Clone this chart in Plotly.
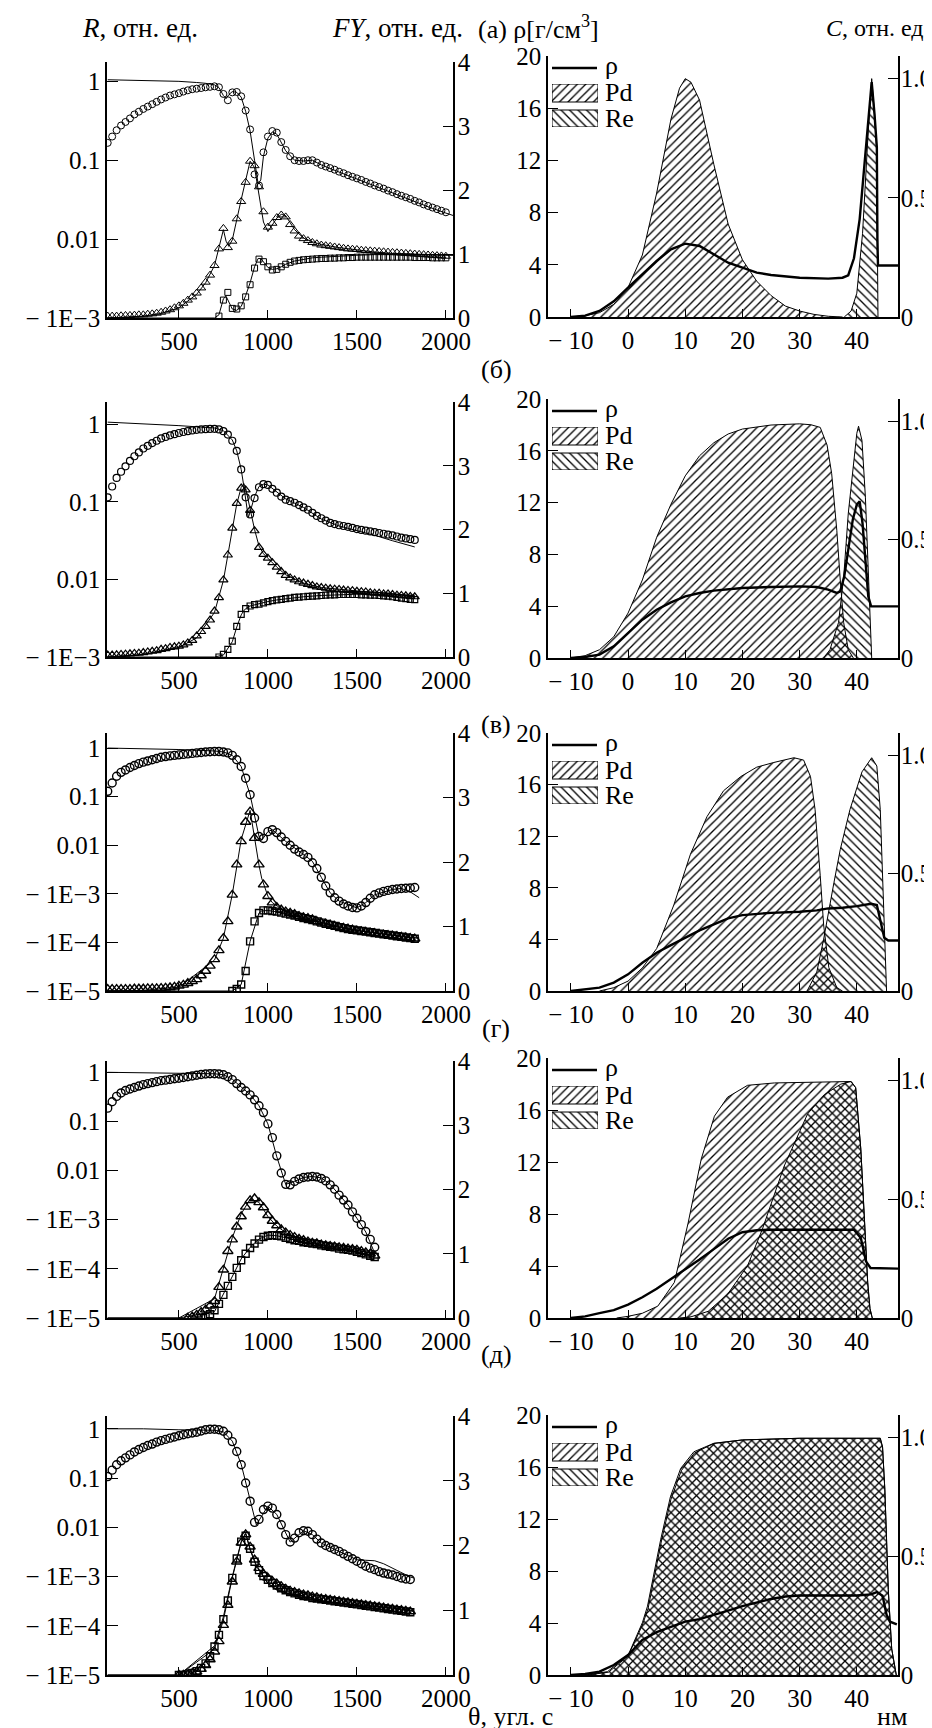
import plotly.graph_objects as go

# ---------------- left panels: reflectivity R (log) and fluorescence yield FY ----------------
# (а)
th_a = list(range(100, 2001, 25))
lgR_a = [-0.78, -0.70, -0.62, -0.56,
         -0.515, -0.47, -0.42, -0.385,
         -0.35, -0.32, -0.29, -0.26,
         -0.23, -0.205, -0.18, -0.165,
         -0.15, -0.13, -0.114, -0.10,
         -0.093, -0.085, -0.076, -0.07,
         -0.063, -0.075, -0.16, -0.24,
         -0.14, -0.135, -0.19, -0.37,
         -0.61, -1.18, -1.32, -0.90,
         -0.70, -0.63, -0.65, -0.77,
         -0.87, -0.95, -1.00, -1.01,
         -1.01, -1.00, -1.00, -1.03,
         -1.06, -1.08, -1.10, -1.12,
         -1.145, -1.165, -1.19, -1.21,
         -1.23, -1.25, -1.275, -1.295,
         -1.32, -1.34, -1.36, -1.385,
         -1.405, -1.43, -1.45, -1.47,
         -1.49, -1.515, -1.535, -1.56,
         -1.58, -1.60, -1.62, -1.64,
         -1.66]
th1_a = th_a
FY1_a = [0.03, 0.03, 0.03, 0.035,
         0.04, 0.04, 0.045, 0.05,
         0.05, 0.06, 0.065, 0.075,
         0.09, 0.11, 0.13, 0.16,
         0.19, 0.23, 0.28, 0.33,
         0.39, 0.47, 0.56, 0.67,
         0.82, 1.08, 1.40, 1.10,
         1.20, 1.55, 1.82, 2.12,
         2.45, 2.38, 2.05, 1.66,
         1.42, 1.48, 1.57, 1.61,
         1.58, 1.46, 1.36, 1.28,
         1.24, 1.21, 1.18, 1.16,
         1.14, 1.13, 1.12, 1.11,
         1.10, 1.09, 1.08, 1.075,
         1.07, 1.06, 1.055, 1.05,
         1.045, 1.04, 1.035, 1.03,
         1.025, 1.02, 1.015, 1.01,
         1.005, 1.0, 0.995, 0.99,
         0.985, 0.98, 0.975, 0.97,
         0.965]
th2_a = list(range(725, 2001, 25))
FY2_a = [0.03, 0.28, 0.40,
         0.15, 0.14, 0.19, 0.33,
         0.52, 0.78, 0.92, 0.88,
         0.80, 0.75, 0.76, 0.80,
         0.84, 0.87, 0.89, 0.90,
         0.91, 0.915, 0.92, 0.925,
         0.93, 0.93, 0.935, 0.935,
         0.94, 0.94, 0.945, 0.945,
         0.95, 0.95, 0.95, 0.95,
         0.95, 0.95, 0.95, 0.95,
         0.95, 0.95, 0.95, 0.95,
         0.95, 0.945, 0.945, 0.945,
         0.945, 0.94, 0.94, 0.94,
         0.94]
thf_a = [100, 200, 300, 400, 500, 600, 650, 700, 725, 750, 765, 780, 800, 825, 850, 875, 900, 925, 945,
         960, 975, 1000, 1025, 1050, 1075, 1100, 1150, 1200, 1250, 1300, 1400, 1500, 1600, 1700, 1800,
         1900, 2000, 2040]
lgRf_a = [0.02, 0.017, 0.013, 0.008, 0.0, -0.015, -0.025, -0.045, -0.08, -0.18, -0.22, -0.17, -0.13,
          -0.14, -0.20, -0.38, -0.63, -1.0, -1.3, -1.25, -0.95, -0.72, -0.64, -0.67, -0.78, -0.88, -1.0,
          -1.01, -1.0, -1.06, -1.15, -1.24, -1.33, -1.41, -1.50, -1.59, -1.67, -1.70]
FY1f_a = [0.0, 0.01, 0.03, 0.07, 0.16, 0.37, 0.55, 0.82, 1.1, 1.38, 1.2, 1.12, 1.22, 1.55, 1.85, 2.15,
          2.45, 2.35, 2.0, 1.72, 1.5, 1.35, 1.45, 1.56, 1.62, 1.6, 1.38, 1.25, 1.19, 1.15, 1.1, 1.06,
          1.03, 1.01, 1.0, 0.99, 0.98, 0.98]
FY2f_a = [0, 0, 0, 0, 0, 0, 0, 0, 0.05, 0.3, 0.34, 0.25, 0.14, 0.12, 0.18, 0.35, 0.55, 0.8, 0.93, 0.93,
          0.88, 0.79, 0.76, 0.77, 0.8, 0.84, 0.89, 0.92, 0.94, 0.95, 0.97, 0.98, 0.99, 0.99, 0.99, 0.99,
          0.985, 0.985]

# (б)
th_b = list(range(100, 1826, 25))
lgR_b = [-0.94, -0.80, -0.69, -0.61,
         -0.54, -0.47, -0.41, -0.36,
         -0.31, -0.275, -0.24, -0.21,
         -0.18, -0.16, -0.14, -0.125,
         -0.11, -0.097, -0.086, -0.077,
         -0.069, -0.064, -0.06, -0.057,
         -0.056, -0.064, -0.086, -0.13,
         -0.21, -0.34, -0.58, -0.94,
         -1.16, -0.95, -0.81, -0.77,
         -0.78, -0.83, -0.88, -0.93,
         -0.97, -0.99, -1.01, -1.04,
         -1.07, -1.10, -1.14, -1.18,
         -1.21, -1.24, -1.27, -1.285,
         -1.30, -1.31, -1.32, -1.335,
         -1.35, -1.36, -1.37, -1.38,
         -1.39, -1.40, -1.41, -1.42,
         -1.43, -1.445, -1.46, -1.47,
         -1.48, -1.49]
th1_b = th_b
FY1_b = [0.03, 0.03, 0.035, 0.04,
         0.045, 0.05, 0.055, 0.06,
         0.07, 0.08, 0.09, 0.10,
         0.12, 0.13, 0.15, 0.16,
         0.17, 0.19, 0.22, 0.26,
         0.33, 0.40, 0.48, 0.58,
         0.72, 0.93, 1.21, 1.60,
         2.02, 2.41, 2.65, 2.62,
         2.30, 1.98, 1.72, 1.61,
         1.55, 1.48, 1.41, 1.34,
         1.28, 1.24, 1.21, 1.18,
         1.16, 1.14, 1.12, 1.10,
         1.09, 1.08, 1.07, 1.065,
         1.06, 1.05, 1.045, 1.04,
         1.03, 1.025, 1.02, 1.01,
         1.0, 1.0, 0.99, 0.99,
         0.98, 0.97, 0.965, 0.96,
         0.95, 0.945]
th2_b = list(range(725, 1826, 25))
FY2_b = [0.0, 0.04, 0.12,
         0.25, 0.48, 0.67, 0.76,
         0.80, 0.82, 0.83, 0.85,
         0.87, 0.885, 0.895, 0.905,
         0.915, 0.925, 0.935, 0.94,
         0.945, 0.95, 0.955, 0.96,
         0.965, 0.97, 0.975, 0.975,
         0.98, 0.98, 0.98, 0.98,
         0.98, 0.975, 0.975, 0.97,
         0.97, 0.965, 0.96, 0.955,
         0.945, 0.935, 0.925, 0.915,
         0.905, 0.90]
thf_b = [100, 300, 500, 600, 700, 750, 800, 825, 850, 865, 875, 890, 900, 925, 950, 975, 1000, 1050,
         1100, 1200, 1300, 1400, 1500, 1600, 1700, 1825]
lgRf_b = [0.03, 0.01, -0.015, -0.03, -0.045, -0.08, -0.2, -0.34, -0.58, -0.8, -0.97, -1.2, -1.13, -0.93,
          -0.8, -0.77, -0.78, -0.87, -0.96, -1.07, -1.22, -1.31, -1.37, -1.43, -1.5, -1.58]
FY1f_b = [0.0, 0.04, 0.15, 0.3, 0.7, 1.2, 2.0, 2.4, 2.66, 2.72, 2.65, 2.45, 2.32, 2.0, 1.74, 1.62, 1.55,
          1.41, 1.29, 1.16, 1.09, 1.06, 1.03, 1.01, 0.99, 0.96]
FY2f_b = [0, 0, 0, 0, 0, 0.03, 0.24, 0.47, 0.66, 0.73, 0.76, 0.79, 0.8, 0.82, 0.835, 0.85, 0.87, 0.895,
          0.915, 0.945, 0.965, 0.98, 0.985, 0.98, 0.975, 0.97]

# (в)
th_c = list(range(100, 1826, 25))
lgR_c = [-0.89, -0.72, -0.58, -0.50,
         -0.45, -0.40, -0.36, -0.32,
         -0.29, -0.265, -0.24, -0.215,
         -0.19, -0.175, -0.16, -0.15,
         -0.14, -0.13, -0.12, -0.11,
         -0.10, -0.09, -0.08, -0.075,
         -0.07, -0.072, -0.08, -0.10,
         -0.15, -0.24, -0.38, -0.62,
         -0.96, -1.44, -1.82, -1.86,
         -1.72, -1.68, -1.74, -1.83,
         -1.92, -2.0, -2.08, -2.14,
         -2.19, -2.25, -2.36, -2.48,
         -2.66, -2.84, -2.98, -3.08,
         -3.15, -3.21, -3.25, -3.28,
         -3.29, -3.25, -3.18, -3.09,
         -3.02, -2.98, -2.95, -2.93,
         -2.91, -2.90, -2.89, -2.885,
         -2.88, -2.87]
th1_c = th_c
FY1_c = [0.03, 0.03, 0.03, 0.03,
         0.03, 0.03, 0.035, 0.035,
         0.035, 0.04, 0.04, 0.04,
         0.045, 0.05, 0.055, 0.065,
         0.08, 0.095, 0.12, 0.15,
         0.18, 0.24, 0.31, 0.39,
         0.49, 0.63, 0.82, 1.08,
         1.49, 1.96, 2.32, 2.62,
         2.78, 2.37, 1.96, 1.65,
         1.47, 1.37, 1.30, 1.26,
         1.23, 1.21, 1.19, 1.16,
         1.14, 1.13, 1.11, 1.08,
         1.06, 1.045, 1.03, 1.01,
         0.99, 0.98, 0.965, 0.95,
         0.935, 0.925, 0.915, 0.905,
         0.895, 0.885, 0.875, 0.865,
         0.86, 0.85, 0.84, 0.83,
         0.82, 0.81]
th2_c = list(range(800, 1826, 25))
FY2_c = [0.0, 0.03, 0.10, 0.31,
         0.77, 1.08, 1.21, 1.25,
         1.25, 1.24, 1.23, 1.215,
         1.20, 1.185, 1.17, 1.15,
         1.13, 1.115, 1.10, 1.08,
         1.06, 1.04, 1.025, 1.01,
         0.99, 0.975, 0.96, 0.95,
         0.94, 0.93, 0.92, 0.91,
         0.90, 0.89, 0.88, 0.87,
         0.86, 0.85, 0.84, 0.83,
         0.82, 0.81]
thf_c = [100, 300, 500, 700, 750, 800, 850, 900, 950, 965, 1000, 1025, 1100, 1200, 1250, 1300, 1350,
         1400, 1500, 1550, 1600, 1700, 1750, 1800, 1850]
lgRf_c = [0.0, -0.01, -0.03, -0.06, -0.08, -0.15, -0.38, -0.96, -1.82, -1.9, -1.72, -1.68, -1.92, -2.19,
          -2.33, -2.66, -2.98, -3.15, -3.29, -3.18, -3.02, -2.91, -2.89, -2.96, -3.08]
FY1f_c = [0.0, 0.01, 0.06, 0.48, 0.82, 1.5, 2.35, 2.8, 1.95, 1.75, 1.47, 1.37, 1.23, 1.14, 1.11, 1.06,
          1.03, 0.99, 0.935, 0.915, 0.895, 0.86, 0.845, 0.83, 0.82]
FY2f_c = [0, 0, 0, 0, 0, 0.0, 0.1, 0.77, 1.21, 1.24, 1.25, 1.24, 1.2, 1.13, 1.1, 1.06, 1.025, 0.99, 0.94,
          0.92, 0.9, 0.86, 0.845, 0.83, 0.82]

# (г)
th_d = list(range(100, 1601, 25))
lgR_d = [-0.73, -0.60, -0.49, -0.42,
         -0.37, -0.34, -0.31, -0.28,
         -0.25, -0.23, -0.21, -0.19,
         -0.17, -0.16, -0.145, -0.13,
         -0.12, -0.105, -0.09, -0.075,
         -0.06, -0.045, -0.035, -0.03,
         -0.03, -0.035, -0.05, -0.09,
         -0.15, -0.23, -0.31, -0.38,
         -0.46, -0.56, -0.68, -0.82,
         -1.05, -1.33, -1.70, -2.05,
         -2.28, -2.29, -2.22, -2.17,
         -2.14, -2.13, -2.12, -2.13,
         -2.16, -2.21, -2.29, -2.38,
         -2.50, -2.60, -2.70, -2.84,
         -2.97, -3.10, -3.24, -3.40,
         -3.56]
th1_d = list(range(550, 1601, 25))
FY1_d = [0.0, 0.02,
         0.05, 0.09, 0.13, 0.19,
         0.26, 0.48, 0.75, 1.04,
         1.22, 1.42, 1.58, 1.73,
         1.83, 1.86, 1.80, 1.72,
         1.60, 1.51, 1.44, 1.38,
         1.33, 1.29, 1.26, 1.23,
         1.21, 1.19, 1.17, 1.16,
         1.14, 1.13, 1.12, 1.11,
         1.10, 1.09, 1.08, 1.07,
         1.06, 1.04, 1.02, 1.0,
         0.97]
th2_d = list(range(625, 1601, 25))
FY2_d = [0.0, 0.02, 0.06,
         0.12, 0.22, 0.36, 0.50,
         0.64, 0.78, 0.90, 1.0,
         1.09, 1.16, 1.22, 1.26,
         1.28, 1.29, 1.28, 1.27,
         1.25, 1.23, 1.21, 1.20,
         1.18, 1.17, 1.16, 1.15,
         1.13, 1.12, 1.11, 1.10,
         1.08, 1.07, 1.06, 1.05,
         1.03, 1.01, 0.99, 0.97,
         0.95]
thf_d = [100, 300, 500, 700, 750, 800, 850, 900, 950, 1000, 1050, 1100, 1150, 1200, 1250, 1300, 1350,
         1400, 1450, 1500, 1550, 1600]
lgRf_d = [0.0, -0.01, -0.02, -0.03, -0.05, -0.14, -0.3, -0.45, -0.68, -1.05, -1.72, -2.28, -2.22, -2.14,
          -2.12, -2.15, -2.28, -2.48, -2.7, -2.97, -3.25, -3.68]
FY1f_d = [0, 0, 0.0, 0.3, 0.78, 1.25, 1.62, 1.85, 1.8, 1.58, 1.43, 1.33, 1.26, 1.21, 1.17, 1.14, 1.12,
          1.1, 1.08, 1.06, 1.03, 0.98]
FY2f_d = [0, 0, 0, 0.1, 0.38, 0.66, 0.92, 1.1, 1.23, 1.29, 1.28, 1.25, 1.21, 1.18, 1.16, 1.13, 1.11,
          1.08, 1.06, 1.03, 0.99, 0.95]

# (д)
th_e = list(range(100, 1801, 25))
lgR_e = [-0.97, -0.84, -0.73, -0.65,
         -0.59, -0.53, -0.47, -0.42,
         -0.38, -0.34, -0.31, -0.27,
         -0.24, -0.215, -0.19, -0.165,
         -0.14, -0.12, -0.10, -0.085,
         -0.07, -0.045, -0.02, -0.01,
         -0.01, -0.02, -0.05, -0.13,
         -0.26, -0.46, -0.73, -1.10,
         -1.47, -1.90, -1.84, -1.64,
         -1.57, -1.61, -1.74, -1.95,
         -2.15, -2.30, -2.22, -2.11,
         -2.07, -2.08, -2.15, -2.24,
         -2.32, -2.37, -2.41, -2.45,
         -2.49, -2.54, -2.59, -2.64,
         -2.69, -2.74, -2.79, -2.83,
         -2.86, -2.90, -2.93, -2.95,
         -2.97, -3.00, -3.03, -3.05,
         -3.06]
th1_e = list(range(500, 1801, 25))
FY1_e = [0.0, 0.0, 0.01, 0.03,
         0.05, 0.09, 0.15, 0.24,
         0.36, 0.52, 0.77, 1.08,
         1.44, 1.75, 2.04, 2.17,
         1.98, 1.78, 1.65, 1.56,
         1.50, 1.45, 1.41, 1.37,
         1.33, 1.30, 1.28, 1.26,
         1.24, 1.23, 1.21, 1.20,
         1.18, 1.17, 1.16, 1.15,
         1.14, 1.13, 1.12, 1.11,
         1.10, 1.09, 1.08, 1.07,
         1.06, 1.05, 1.04, 1.03,
         1.02, 1.01, 1.0, 0.99,
         0.98]
th2_e = list(range(500, 1801, 25))
FY2_e = [0.0, 0.0, 0.01, 0.03,
         0.06, 0.11, 0.18, 0.29,
         0.44, 0.62, 0.86, 1.15,
         1.50, 1.80, 2.06, 2.15,
         1.95, 1.75, 1.62, 1.53,
         1.47, 1.42, 1.38, 1.34,
         1.31, 1.28, 1.26, 1.24,
         1.22, 1.21, 1.19, 1.18,
         1.17, 1.16, 1.15, 1.14,
         1.13, 1.12, 1.11, 1.10,
         1.09, 1.08, 1.07, 1.06,
         1.05, 1.04, 1.03, 1.02,
         1.01, 1.0, 0.99, 0.98,
         0.97]
thf_e = [100, 300, 500, 700, 750, 800, 850, 875, 900, 935, 1000, 1050, 1125, 1200, 1250, 1300, 1400,
         1500, 1550, 1600, 1650, 1700, 1750, 1800, 1820]
lgRf_e = [0.0, 0.0, -0.02, -0.03, -0.06, -0.25, -0.72, -1.1, -1.46, -1.95, -1.57, -1.74, -2.3, -2.07,
          -2.15, -2.32, -2.49, -2.66, -2.67, -2.68, -2.74, -2.83, -2.93, -3.01, -3.03]
FY1f_e = [0, 0, 0.0, 0.4, 0.85, 1.5, 2.05, 2.2, 1.95, 1.7, 1.42, 1.32, 1.24, 1.19, 1.16, 1.14, 1.11,
          1.09, 1.08, 1.07, 1.05, 1.04, 1.02, 1.0, 0.99]
FY2f_e = [0, 0, 0.0, 0.45, 0.9, 1.52, 2.06, 2.18, 1.93, 1.68, 1.41, 1.31, 1.23, 1.18, 1.15, 1.13, 1.10,
          1.08, 1.07, 1.06, 1.05, 1.03, 1.01, 0.99, 0.98]

# ---------------- right panels: density ρ and concentrations C(Pd), C(Re) vs depth, nm ----------------
z_pd_a = [-10, -7.5, -5, -2.5, 0, 2.5, 5, 7.5, 9, 10, 11, 12.5, 15, 17.5, 20, 22.5, 25, 27.5, 30, 32.5, 35, 37.5]
pd_a = [0, 0.006, 0.018, 0.053, 0.124, 0.26, 0.52, 0.83, 0.96, 1.0, 0.985, 0.91, 0.64, 0.39, 0.24, 0.15,
        0.09, 0.046, 0.025, 0.011, 0.003, 0]
z_re_a = [37.8, 39, 40, 41, 42, 42.6, 43.1, 43.5, 43.6, 43.7]
re_a = [0, 0.025, 0.1, 0.35, 0.78, 1.0, 0.85, 0.70, 0.3, 0]
z_rho_a = [-10, -7.5, -5, -2.5, 0, 2.5, 5, 7.5, 10, 12.5, 15, 17.5, 20, 22.5, 25, 30, 35, 37.5, 38.5, 39.5,
           40.5, 41.5, 42.2, 42.6, 43.1, 43.5, 43.6, 43.7, 47.2]
rho_a = [0, 0.1, 0.46, 1.2, 2.25, 3.27, 4.29, 5.19, 5.62, 5.44, 4.8, 4.16, 3.78, 3.4, 3.22, 3.01, 2.94,
         3.01, 3.2, 4.5, 7.5, 12.5, 16.5, 18.0, 15.5, 13.0, 6.0, 3.95, 3.95]

z_pd_b = [-10, -7.5, -5, -2.5, 0, 2.5, 5, 7.5, 10, 12.5, 15, 17.5, 20, 25, 30, 32, 33.6, 34.8, 35.6, 36.5,
          37.1, 37.7, 38.5, 39.4]
pd_b = [0, 0.01, 0.035, 0.09, 0.19, 0.33, 0.51, 0.65, 0.77, 0.855, 0.91, 0.947, 0.968, 0.985, 0.99, 0.986,
        0.975, 0.9, 0.78, 0.54, 0.33, 0.15, 0.035, 0]
z_re_b = [34.2, 35.3, 36.8, 37.7, 38.5, 39.4, 40.0, 40.3, 40.9, 41.5, 42.0, 42.6]
re_b = [0, 0.035, 0.15, 0.34, 0.61, 0.82, 0.95, 0.98, 0.92, 0.68, 0.33, 0]
z_rho_b = [-10, -7.5, -5, -2.5, 0, 2.5, 5, 7.5, 10, 12.5, 15, 20, 25, 30, 33, 35, 36.5, 37.1, 37.8, 38.5,
           39.3, 40.0, 40.5, 41.0, 41.5, 42.0, 42.5, 47.2]
rho_b = [0, 0.08, 0.26, 0.9, 1.93, 2.96, 3.73, 4.3, 4.76, 5.02, 5.2, 5.41, 5.48, 5.53, 5.48, 5.28, 5.02,
         5.15, 6.3, 8.4, 10.7, 11.84, 12.1, 10.4, 7.3, 4.76, 3.99, 3.99]

z_pd_c = [-5, -2.5, 0, 2.5, 5, 8, 10.9, 13.8, 16.7, 19.7, 22.5, 25.5, 29, 30.7, 31.9, 32.7, 33.6, 34.2,
          35.1, 36.5, 37.5]
pd_c = [0, 0.014, 0.042, 0.098, 0.18, 0.365, 0.58, 0.74, 0.85, 0.91, 0.95, 0.97, 0.99, 0.98, 0.91, 0.77,
        0.49, 0.28, 0.10, 0.014, 0]
z_re_c = [31.3, 33.0, 34.2, 35.0, 36.0, 37.1, 38.8, 40.9, 42.6, 43.5, 44.1, 44.7, 45.2]
re_c = [0, 0.08, 0.22, 0.33, 0.46, 0.60, 0.77, 0.93, 0.99, 0.955, 0.77, 0.35, 0]
z_rho_c = [-10, -5, -2.5, 0, 2.5, 5, 7.5, 10, 12.5, 15, 17.5, 20, 25, 30, 33, 35, 37.5, 40, 42.5, 43.5,
           44.3, 44.8, 45.5, 47.2]
rho_c = [0, 0.26, 0.65, 1.29, 2.19, 2.97, 3.56, 4.13, 4.7, 5.16, 5.63, 5.88, 6.06, 6.14, 6.25, 6.4, 6.45,
         6.58, 6.76, 6.66, 5.16, 4.13, 3.92, 3.92]

z_pd_d = [-2, 0, 2.5, 5.2, 8.1, 10.5, 12.8, 15.1, 17.4, 20.9, 25.6, 30, 35, 39, 39.8, 40.7, 41.3, 41.9,
          42.3, 42.7]
pd_d = [0, 0.007, 0.02, 0.05, 0.15, 0.40, 0.67, 0.85, 0.93, 0.98, 0.99, 0.993, 0.994, 0.996, 0.97, 0.71,
        0.43, 0.15, 0.04, 0]
z_re_d = [9, 11, 14, 17.4, 20.9, 23.5, 27.3, 31.4, 34.3, 37.2, 39, 39.8, 40.7, 41.3, 41.9, 42.3, 42.7]
re_d = [0, 0.005, 0.028, 0.1, 0.22, 0.375, 0.64, 0.86, 0.94, 0.985, 0.996, 0.97, 0.71, 0.43, 0.15, 0.04, 0]
z_rho_d = [-10, -7.5, -5, -2.5, 0, 2.5, 5, 7.5, 10, 12.5, 15, 17.5, 20, 22.5, 25, 30, 35, 39.5, 40.7,
           41.6, 42.4, 47.2]
rho_d = [0, 0.12, 0.38, 0.6, 1.03, 1.6, 2.25, 3.0, 3.7, 4.5, 5.3, 6.1, 6.6, 6.75, 6.79, 6.79, 6.79, 6.79,
         6.15, 4.36, 3.85, 3.8]

z_pd_e = [-7.5, -3.6, 0, 2.5, 3.4, 5.7, 7.4, 9.2, 11.5, 15, 20, 30, 40, 44.1, 44.5, 44.9, 45.5, 46.1, 46.9]
pd_e = [0, 0.014, 0.083, 0.22, 0.29, 0.57, 0.75, 0.87, 0.94, 0.976, 0.99, 0.997, 0.997, 0.997, 0.96,
        0.78, 0.36, 0.11, 0]
z_re_e = [-7, -3.4, 0, 2.5, 3.5, 5.8, 7.5, 9.3, 11.6, 15, 20, 30, 40, 44.1, 44.5, 44.9, 45.5, 46.1, 46.9]
re_e = [0, 0.012, 0.08, 0.21, 0.28, 0.56, 0.74, 0.86, 0.935, 0.975, 0.99, 0.997, 0.997, 0.997, 0.96,
        0.78, 0.36, 0.11, 0]
z_rho_e = [-10, -7.5, -5, -2.5, 0, 2.5, 5, 7.5, 10, 12.5, 15, 17.5, 20, 25, 27.5, 30, 35, 40, 42.5, 43.5,
           44.5, 45.2, 45.8, 47]
rho_e = [0, 0.08, 0.26, 0.77, 1.54, 2.7, 3.3, 3.7, 4.11, 4.3, 4.6, 4.95, 5.3, 5.85, 6.04, 6.12, 6.12,
         6.12, 6.2, 6.38, 6.1, 4.63, 4.1, 3.9]

# ---------------- labels and ticks ----------------
panel_labels = ["(а)", "(б)", "(в)", "(г)", "(д)"]
log_ticks = [1, 0.1, 0.01, 1e-3, 1e-4, 1e-5]
log_ticktext = ["1", "0.1", "0.01", "\u2212 1E\u22123", "\u2212 1E\u22124", "\u2212 1E\u22125"]
theta_ticks = [500, 1000, 1500, 2000]
fy_ticks = [0, 1, 2, 3, 4]
z_ticks = [-10, 0, 10, 20, 30, 40]
z_ticktext = ["\u2212 10", "0", "10", "20", "30", "40"]
rho_ticks = [0, 4, 8, 12, 16, 20]
c_ticks = [0, 0.5, 1.0]
c_ticktext = ["0", "0.5", "1.0"]
legend_names = ["\u03c1", "Pd", "Re"]

left_sets = [
    (th_a, lgR_a, th1_a, FY1_a, th2_a, FY2_a, thf_a, lgRf_a, FY1f_a, FY2f_a),
    (th_b, lgR_b, th1_b, FY1_b, th2_b, FY2_b, thf_b, lgRf_b, FY1f_b, FY2f_b),
    (th_c, lgR_c, th1_c, FY1_c, th2_c, FY2_c, thf_c, lgRf_c, FY1f_c, FY2f_c),
    (th_d, lgR_d, th1_d, FY1_d, th2_d, FY2_d, thf_d, lgRf_d, FY1f_d, FY2f_d),
    (th_e, lgR_e, th1_e, FY1_e, th2_e, FY2_e, thf_e, lgRf_e, FY1f_e, FY2f_e),
]
right_sets = [
    (z_pd_a, pd_a, z_re_a, re_a, z_rho_a, rho_a),
    (z_pd_b, pd_b, z_re_b, re_b, z_rho_b, rho_b),
    (z_pd_c, pd_c, z_re_c, re_c, z_rho_c, rho_c),
    (z_pd_d, pd_d, z_re_d, re_d, z_rho_d, rho_d),
    (z_pd_e, pd_e, z_re_e, re_e, z_rho_e, rho_e),
]

# ---------------- geometry (pixels of the 932x1728 page) ----------------
W, H = 932, 1728
SERIF = "Liberation Serif"
TICKFONT = dict(family=SERIF, size=25, color="black")
TXTFONT = dict(family=SERIF, size=26, color="black")
left_x = (99, 445)
right_x = (540, 890)
rows_left = [(54, 310), (394, 649), (725, 983), (1053, 1310), (1408, 1667)]
rows_right = [(48, 309), (391, 650), (725, 983), (1050, 1310), (1407, 1667)]
log_range = [(-3, 0.245), (-3, 0.29), (-5, 0.31), (-5, 0.23), (-5, 0.26)]
label_y = [None, 362, 716, 1020, 1346]
# marker style per row (later rows have far denser measurement points)
mk_size = [7, 7, 8, 8, 8]
mk_lw = [1.0, 1.2, 1.4, 1.4, 1.4]


def xf(p):
    return p / W


def yf(p):
    return 1 - p / H


def akey(kind, n):
    return f"{kind}axis" if n == 1 else f"{kind}axis{n}"


def aref(kind, n):
    return kind if n == 1 else f"{kind}{n}"


AX = dict(showline=True, linecolor="black", linewidth=1.6, showgrid=False, zeroline=False,
          ticks="inside", tickcolor="black", tickwidth=1.4, tickfont=TICKFONT, fixedrange=True)

layout = dict(width=W, height=H, margin=dict(l=0, r=0, t=0, b=0), template="none",
              paper_bgcolor="white", plot_bgcolor="rgba(0,0,0,0)", showlegend=False,
              font=dict(family=SERIF, color="black", size=25))
shapes, annotations = [], []
traces = []

line_thin = dict(color="black", width=1)

for r in range(5):
    mk = dict(color="black", size=mk_size[r], line=dict(width=mk_lw[r], color="black"))
    # ---- left panel ----
    xn, yb, yo = 2 * r + 1, 4 * r + 1, 4 * r + 2
    th, lgR, th1, FY1, th2, FY2, thf, lgRf, FY1f, FY2f = left_sets[r]
    top, bot = rows_left[r]
    layout[akey("x", xn)] = dict(AX, domain=[xf(left_x[0]), xf(left_x[1])], anchor=aref("y", yb),
                                 range=[96, 2040], tickmode="array", tickvals=theta_ticks, ticklen=8)
    nlab = 4 if r < 2 else 6
    layout[akey("y", yb)] = dict(AX, domain=[yf(bot), yf(top)], anchor=aref("x", xn), type="log",
                                 range=list(log_range[r]), tickmode="array",
                                 tickvals=log_ticks[:nlab], ticktext=log_ticktext[:nlab], ticklen=11,
                                 side="left")
    layout[akey("y", yo)] = dict(AX, overlaying=aref("y", yb), anchor=aref("x", xn), side="right",
                                 range=[0, 4], tickmode="array", tickvals=fy_ticks, ticklen=10,
                                 ticklabelstandoff=-2)
    xa, ya, yb2 = aref("x", xn), aref("y", yb), aref("y", yo)
    traces.append(go.Scatter(x=thf, y=[10 ** v for v in lgRf], mode="lines", line=line_thin,
                             xaxis=xa, yaxis=ya))
    traces.append(go.Scatter(x=th, y=[10 ** v for v in lgR], mode="markers",
                             marker=dict(mk, symbol="circle-open"), xaxis=xa, yaxis=ya))
    traces.append(go.Scatter(x=thf, y=FY1f, mode="lines", line=line_thin, xaxis=xa, yaxis=yb2))
    traces.append(go.Scatter(x=thf, y=FY2f, mode="lines", line=line_thin, xaxis=xa, yaxis=yb2))
    traces.append(go.Scatter(x=th1, y=FY1, mode="markers",
                             marker=dict(mk, symbol="triangle-up-open", size=mk_size[r] + 1),
                             xaxis=xa, yaxis=yb2))
    traces.append(go.Scatter(x=th2, y=FY2, mode="markers",
                             marker=dict(mk, symbol="square-open", size=mk_size[r] - 1),
                             xaxis=xa, yaxis=yb2))

    # ---- right panel ----
    xn, yc, yr = 2 * r + 2, 4 * r + 3, 4 * r + 4
    z_pd, pdv, z_re, rev, z_rho, rhov = right_sets[r]
    top, bot = rows_right[r]
    layout[akey("x", xn)] = dict(AX, domain=[xf(right_x[0]), xf(right_x[1])], anchor=aref("y", yc),
                                 range=[-14, 47.2], tickmode="array", tickvals=z_ticks,
                                 ticktext=z_ticktext, ticklen=8)
    layout[akey("y", yc)] = dict(AX, domain=[yf(bot), yf(top)], anchor=aref("x", xn), side="right",
                                 range=[0, 1.095], tickmode="array", tickvals=c_ticks,
                                 ticktext=c_ticktext, ticklen=10, ticklabelstandoff=-4)
    layout[akey("y", yr)] = dict(AX, overlaying=aref("y", yc), anchor=aref("x", xn), side="left",
                                 range=[0, 20], tickmode="array", tickvals=rho_ticks, ticklen=10)
    xa, ya, yb2 = aref("x", xn), aref("y", yc), aref("y", yr)
    for zz, vv, shp in ((z_pd, pdv, "/"), (z_re, rev, "\\")):
        traces.append(go.Scatter(x=zz, y=vv, mode="lines", line=line_thin, fill="tozeroy",
                                 fillcolor="rgba(0,0,0,0)",
                                 fillpattern=dict(shape=shp, fgcolor="black", bgcolor="rgba(0,0,0,0)",
                                                  size=6, solidity=0.22),
                                 xaxis=xa, yaxis=ya))
    traces.append(go.Scatter(x=z_rho, y=rhov, mode="lines", line=dict(color="black", width=2.4),
                             xaxis=xa, yaxis=yb2))

    # ---- legend (key glyphs drawn in a tiny frame of its own) ----
    lx, ly = 11 + r, 21 + r
    layout[akey("x", lx)] = dict(domain=[xf(544), xf(590)], range=[0, 46], visible=False,
                                 anchor=aref("y", ly), fixedrange=True)
    layout[akey("y", ly)] = dict(domain=[yf(top + 71), yf(top + 28)], range=[0, 43], visible=False,
                                 anchor=aref("x", lx), fixedrange=True)
    for (y0, y1), shp in (((25, 43), "/"), ((0, 17), "\\")):
        traces.append(go.Scatter(x=[0, 46, 46, 0, 0], y=[y0, y0, y1, y1, y0], mode="lines",
                                 line=dict(color="black", width=1), fill="toself",
                                 fillcolor="rgba(0,0,0,0)",
                                 fillpattern=dict(shape=shp, fgcolor="black", bgcolor="rgba(0,0,0,0)",
                                                  size=6, solidity=0.22),
                                 xaxis=aref("x", lx), yaxis=aref("y", ly)))
    shapes.append(dict(type="line", xref="paper", yref="paper", x0=xf(544), x1=xf(589),
                       y0=yf(top + 12), y1=yf(top + 12), line=dict(color="black", width=2.4)))
    for name, dy in zip(legend_names, (9, 37, 62)):
        annotations.append(dict(text=name, xref="paper", yref="paper", x=xf(595), y=yf(top + dy),
                                xanchor="left", yanchor="middle", showarrow=False, font=TXTFONT))
    if label_y[r] is not None:
        annotations.append(dict(text=panel_labels[r], xref="paper", yref="paper", x=xf(488),
                                y=yf(label_y[r]), xanchor="center", yanchor="middle",
                                showarrow=False, font=TXTFONT))

# header and axis captions
HEADFONT = dict(family=SERIF, size=27, color="black")
annotations += [
    dict(text="<i>R</i>, отн. ед.", x=xf(72), y=yf(20), xanchor="left", font=HEADFONT),
    dict(text="<i>FY</i>, отн. ед.", x=xf(322), y=yf(20), xanchor="left", font=HEADFONT),
    dict(text=panel_labels[0] + " \u03c1[г/см<sup>3</sup>]", x=xf(468), y=yf(20), xanchor="left",
         font=TXTFONT),
    dict(text="<i>C</i>, отн. ед.", x=xf(924), y=yf(20), xanchor="right",
         font=dict(family=SERIF, size=24, color="black")),
    dict(text="\u03b8, угл. с", x=xf(458), y=yf(1708), xanchor="left", font=TXTFONT),
    dict(text="нм", x=xf(884), y=yf(1708), xanchor="center", font=TXTFONT),
]
for a in annotations[-6:]:
    a.update(xref="paper", yref="paper", yanchor="middle", showarrow=False)

layout["shapes"] = shapes
layout["annotations"] = annotations

for t in traces:
    t.update(showlegend=False, hoverinfo="skip")

fig = go.Figure(data=traces, layout=layout)
fig.write_html("out.html")
